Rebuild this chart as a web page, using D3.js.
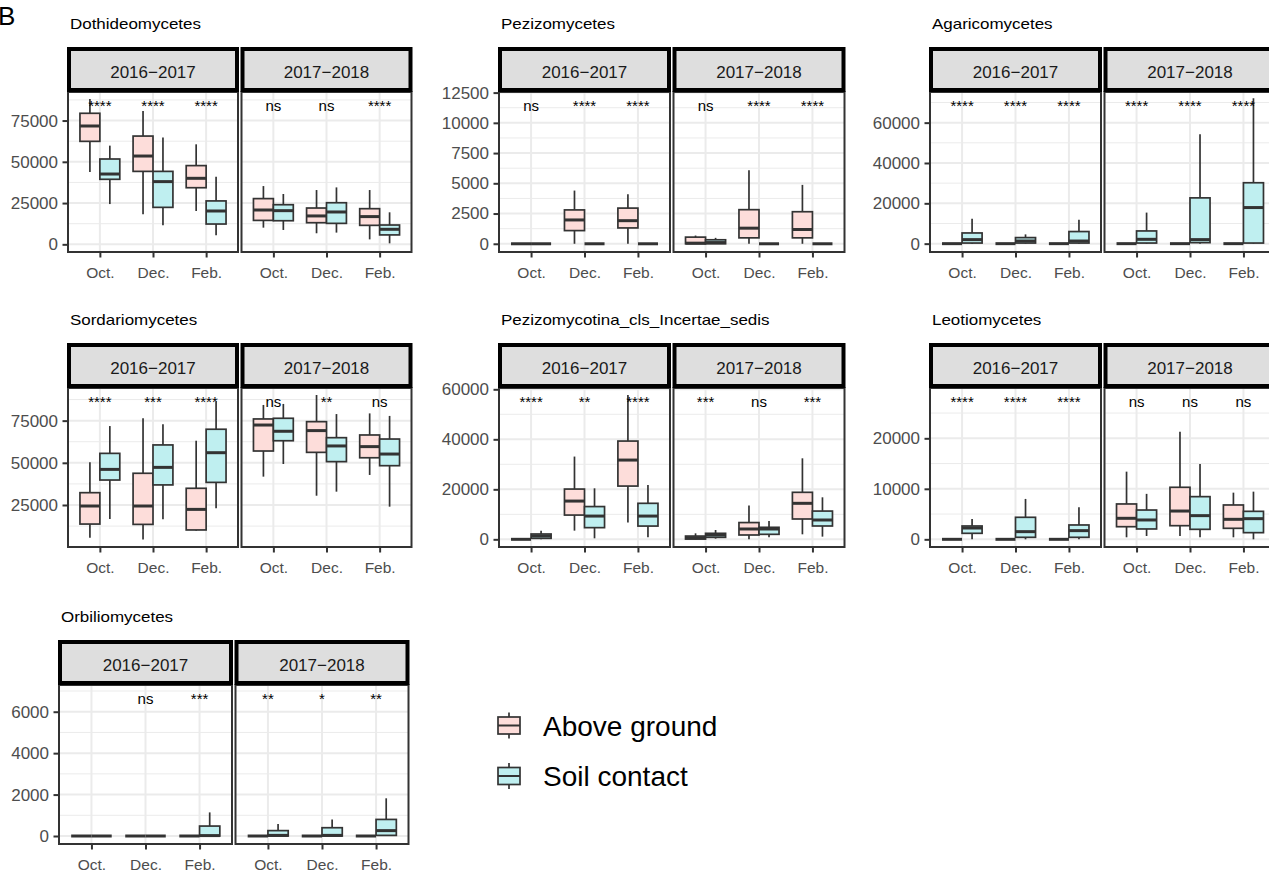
<!DOCTYPE html>
<html>
<head>
<meta charset="utf-8">
<script src="https://d3js.org/d3.v7.min.js"></script>
<style>
  body { margin: 0; background: #fff; }
  text { font-family: "Liberation Sans", Arial, sans-serif; }
</style>
</head>
<body>
<div id="grafico"></div>
<script>
// ---- data ----
const classes = ["Dothideomycetes", "Pezizomycetes", "Agaricomycetes",
  "Sordariomycetes", "Pezizomycotina_cls_Incertae_sedis", "Leotiomycetes", "Orbiliomycetes"];
const years = ["2016\u22122017", "2017\u22122018"];
const months = ["Oct.", "Dec.", "Feb."];
const groups = ["Above ground", "Soil contact"];
const groupColors = ["#F8766D", "#00BFC4"];

// [lower whisker, q1, median, q3, upper whisker]; order: year > month > group
const dothideomycetes = [
  [43800, 62400, 71700, 79400, 88000], [24400, 39400, 42600, 51700, 59800],
  [18200, 44200, 53500, 65600, 80800], [11500, 22400, 38000, 44200, 64800],
  [20200, 34300, 40000, 47700, 60600], [5500, 12300, 20200, 26300, 41000],
  [10100, 14500, 20800, 27700, 35300], [8700, 14300, 20400, 24000, 30500],
  [6700, 13100, 17200, 22000, 32900], [7100, 12700, 19600, 25200, 34500],
  [3000, 11500, 16800, 21600, 32900], [600, 5700, 9100, 11700, 19400]
];
const pezizomycetes = [
  [0, 0, 0, 0, 0], [0, 0, 0, 0, 0],
  [0, 1090, 1970, 2800, 4400], [0, 0, 0, 0, 0],
  [0, 1310, 1910, 2950, 4100], [0, 0, 0, 0, 0],
  [0, 0, 50, 550, 680], [0, 0, 100, 330, 490],
  [0, 490, 1290, 2820, 6070], [0, 0, 0, 0, 0],
  [0, 490, 1180, 2650, 4870], [0, 0, 0, 0, 0]
];
const agaricomycetes = [
  [0, 0, 0, 0, 0], [0, 300, 2000, 5300, 12400],
  [0, 0, 0, 0, 0], [0, 300, 1300, 3000, 4600],
  [0, 0, 0, 0, 0], [0, 300, 1300, 6000, 11900],
  [0, 0, 0, 0, 0], [0, 300, 2150, 6300, 15400],
  [0, 0, 0, 0, 0], [0, 500, 2000, 22700, 54200],
  [0, 0, 0, 0, 0], [0, 300, 17900, 30200, 72100]
];
const sordariomycetes = [
  [5600, 13700, 24400, 32300, 50300], [16700, 39800, 46100, 55600, 71800],
  [4600, 13500, 24400, 43800, 76400], [16500, 36900, 47300, 60600, 72800],
  [9800, 10200, 22400, 34900, 63100], [23000, 38400, 56000, 69900, 86300],
  [41800, 57000, 72400, 76000, 84300], [49300, 63100, 68700, 76400, 84900],
  [30500, 56200, 69100, 74400, 90200], [32900, 50700, 60000, 64900, 78900],
  [42800, 53000, 59600, 66500, 79300], [24000, 48300, 55200, 64100, 77800]
];
const pezizomycotina = [
  [0, 0, 0, 0, 0], [0, 400, 1330, 2130, 3470],
  [3470, 9700, 15300, 20100, 33100], [400, 4670, 9300, 13100, 20400],
  [6700, 21300, 31700, 39300, 57700], [800, 5300, 9300, 14400, 21700],
  [0, 100, 600, 1300, 2400], [270, 800, 1730, 2400, 3730],
  [0, 1730, 4130, 6700, 13500], [800, 2000, 4130, 4800, 7330],
  [2000, 8130, 14400, 18800, 32400], [1070, 5330, 7730, 11300, 16800]
];
const leotiomycetes = [
  [0, 0, 0, 0, 0], [0, 1190, 2240, 2640, 4000],
  [0, 0, 0, 0, 0], [0, 400, 1520, 4360, 8000],
  [0, 0, 0, 0, 0], [0, 400, 1720, 2840, 6340],
  [400, 2500, 4160, 7000, 13400], [660, 2050, 3830, 5800, 9000],
  [660, 2700, 5600, 10300, 21300], [400, 1980, 4690, 8450, 14900],
  [400, 2180, 3960, 6800, 9240], [0, 1320, 4090, 5540, 9440]
];
const orbiliomycetes = [
  [0, 0, 0, 0, 0], [0, 0, 0, 0, 0],
  [0, 0, 0, 0, 0], [0, 0, 0, 0, 0],
  [0, 0, 0, 0, 0], [0, 0, 20, 480, 1140],
  [0, 0, 0, 0, 0], [0, 0, 30, 260, 580],
  [0, 0, 0, 0, 0], [0, 0, 30, 400, 800],
  [0, 0, 0, 0, 0], [0, 30, 260, 800, 1820]
];
const boxStats = [dothideomycetes, pezizomycetes, agaricomycetes,
  sordariomycetes, pezizomycotina, leotiomycetes, orbiliomycetes];

// significance labels; order: year > month
const signif = [
  ["****", "****", "****", "ns", "ns", "****"],
  ["ns", "****", "****", "ns", "****", "****"],
  ["****", "****", "****", "****", "****", "****"],
  ["****", "***", "****", "ns", "**", "ns"],
  ["****", "**", "****", "***", "ns", "***"],
  ["****", "****", "****", "ns", "ns", "ns"],
  ["", "ns", "***", "**", "*", "**"]
];

// y-axis extents and tick labels
const yDomains = [[-4650, 92300], [-680, 12550], [-4140, 75200],
  [100, 94350], [-3070, 60520], [-1520, 29960], [-386, 7290]];
const yTicks = [
  [0, 25000, 50000, 75000],
  [0, 2500, 5000, 7500, 10000, 12500],
  [0, 20000, 40000, 60000],
  [25000, 50000, 75000],
  [0, 20000, 40000, 60000],
  [0, 10000, 20000],
  [0, 2000, 4000, 6000]
];

// ---- layout ----
const ancho = 1269, alto = 870;
const stripTops = [47, 343, 640];
const panelBottoms = [252, 547, 844];
const colX = [68, 499, 930];
const colW = [170, 171, 171];
const posicion = [[0, 0], [0, 1], [0, 2], [1, 0], [1, 1], [1, 2], [2, 0]];
const gap = 3.5;
const dark = "#333333";

const svg = d3.select("#grafico").append("svg")
  .attr("width", ancho).attr("height", alto);

svg.append("text").attr("x", -2).attr("y", 25)
  .style("font-size", "26px").attr("fill", "#000").text("B");

classes.forEach((nombre, i) => {
  const [r, c] = posicion[i];
  const x0 = (r === 2 && c === 0) ? 59 : colX[c];
  const w = (r === 2 && c === 0) ? 173 : colW[c];
  const st = stripTops[r], pt = st + 45, pb = panelBottoms[r];

  const y = d3.scaleLinear().domain(yDomains[i]).range([pb, pt]);

  svg.append("text")
    .attr("transform", `translate(${x0 + 2},${st - 18}) scale(1.17,1)`)
    .style("font-size", "14.5px").attr("fill", "#000").text(nombre);

  const ticks = yTicks[i];
  const paso = ticks[1] - ticks[0];
  const menores = ticks.map(t => t - paso / 2).concat([ticks[ticks.length - 1] + paso / 2])
    .filter(v => v > yDomains[i][0] && v < yDomains[i][1]);

  years.forEach((anio, j) => {
    const px = x0 + j * (w + gap);
    const x = d3.scalePoint().domain(months).range([px, px + w]).padding(0.6);
    const step = x.step();
    const g = svg.append("g");

    // grid
    g.selectAll(".minor").data(menores).enter().append("line")
      .attr("x1", px).attr("x2", px + w)
      .attr("y1", d => y(d)).attr("y2", d => y(d))
      .attr("stroke", "#EBEBEB").attr("stroke-width", 1);
    g.selectAll(".major").data(ticks).enter().append("line")
      .attr("x1", px).attr("x2", px + w)
      .attr("y1", d => y(d)).attr("y2", d => y(d))
      .attr("stroke", "#EBEBEB").attr("stroke-width", 2);
    g.selectAll(".vmajor").data(months).enter().append("line")
      .attr("x1", d => x(d)).attr("x2", d => x(d))
      .attr("y1", pt).attr("y2", pb)
      .attr("stroke", "#EBEBEB").attr("stroke-width", 2);

    // boxes
    months.forEach((mes, m) => {
      groups.forEach((grupo, k) => {
        const s = boxStats[i][j * 6 + m * 2 + k];
        const cx = x(mes) + (k === 0 ? -0.1875 : 0.1875) * step;
        const bw = 0.375 * step;
        g.append("line").attr("x1", cx).attr("x2", cx)
          .attr("y1", y(s[4])).attr("y2", y(s[3]))
          .attr("stroke", dark).attr("stroke-width", 1.7);
        g.append("line").attr("x1", cx).attr("x2", cx)
          .attr("y1", y(s[1])).attr("y2", y(s[0]))
          .attr("stroke", dark).attr("stroke-width", 1.7);
        g.append("rect").attr("x", cx - bw / 2).attr("width", bw)
          .attr("y", y(s[3])).attr("height", Math.max(0, y(s[1]) - y(s[3])))
          .attr("fill", "#fff").attr("stroke", "none");
        g.append("rect").attr("x", cx - bw / 2).attr("width", bw)
          .attr("y", y(s[3])).attr("height", Math.max(0, y(s[1]) - y(s[3])))
          .attr("fill", groupColors[k]).attr("fill-opacity", 0.25)
          .attr("stroke", dark).attr("stroke-width", 1.7);
        g.append("line").attr("x1", cx - bw / 2).attr("x2", cx + bw / 2)
          .attr("y1", y(s[2])).attr("y2", y(s[2]))
          .attr("stroke", dark).attr("stroke-width", 3);
      });
    });

    // significance labels
    g.selectAll(".sig").data(months).enter().append("text")
      .attr("x", d => x(d)).attr("y", pt + 19)
      .attr("text-anchor", "middle").style("font-size", "15px").attr("fill", "#000")
      .text((d, m) => signif[i][j * 3 + m]);

    // panel border
    g.append("rect").attr("x", px).attr("y", pt).attr("width", w).attr("height", pb - pt)
      .attr("fill", "none").attr("stroke", dark).attr("stroke-width", 2);

    // strip
    g.append("rect").attr("x", px + 1).attr("y", st + 2).attr("width", w - 2).attr("height", 41)
      .attr("fill", "#DEDEDE").attr("stroke", "#000").attr("stroke-width", 4);
    g.append("text").attr("x", px + w / 2).attr("y", st + 31)
      .attr("text-anchor", "middle").style("font-size", "17px").attr("fill", "#1A1A1A")
      .text(anio);

    // x axis
    const ejeX = g.append("g").attr("transform", `translate(0,${pb})`)
      .call(d3.axisBottom(x).tickSize(5.5).tickPadding(9));
    ejeX.select(".domain").remove();
    ejeX.selectAll("line").attr("stroke", dark).attr("stroke-width", 2);
    ejeX.selectAll("text").style("font-size", "15.5px").attr("fill", "#4D4D4D")
      .style("font-family", '"Liberation Sans", Arial, sans-serif');

    // y axis (first facet only)
    if (j === 0) {
      const ejeY = g.append("g").attr("transform", `translate(${px},0)`)
        .call(d3.axisLeft(y).tickValues(ticks).tickSize(5.5).tickPadding(4.5).tickFormat(d3.format("d")));
      ejeY.select(".domain").remove();
      ejeY.selectAll("line").attr("stroke", dark).attr("stroke-width", 2);
      ejeY.selectAll("text").style("font-size", "17px").attr("fill", "#4D4D4D")
        .style("font-family", '"Liberation Sans", Arial, sans-serif');
    }
  });
});

// legend
const leyenda = svg.append("g");
const claveY = [725.5, 776];
groups.forEach((grupo, k) => {
  const cy = claveY[k];
  leyenda.append("line").attr("x1", 509).attr("x2", 509)
    .attr("y1", cy - 13).attr("y2", cy + 13).attr("stroke", dark).attr("stroke-width", 1.7);
  leyenda.append("rect").attr("x", 498).attr("y", cy - 8.5).attr("width", 22).attr("height", 17)
    .attr("fill", "#fff").attr("stroke", "none");
  leyenda.append("rect").attr("x", 498).attr("y", cy - 8.5).attr("width", 22).attr("height", 17)
    .attr("fill", groupColors[k]).attr("fill-opacity", 0.25)
    .attr("stroke", dark).attr("stroke-width", 1.7);
  leyenda.append("line").attr("x1", 498).attr("x2", 520)
    .attr("y1", cy).attr("y2", cy).attr("stroke", dark).attr("stroke-width", 2);
  leyenda.append("text").attr("x", 543).attr("y", cy + 10)
    .style("font-size", "28px").attr("fill", "#000").text(grupo);
});
</script>
</body>
</html>
